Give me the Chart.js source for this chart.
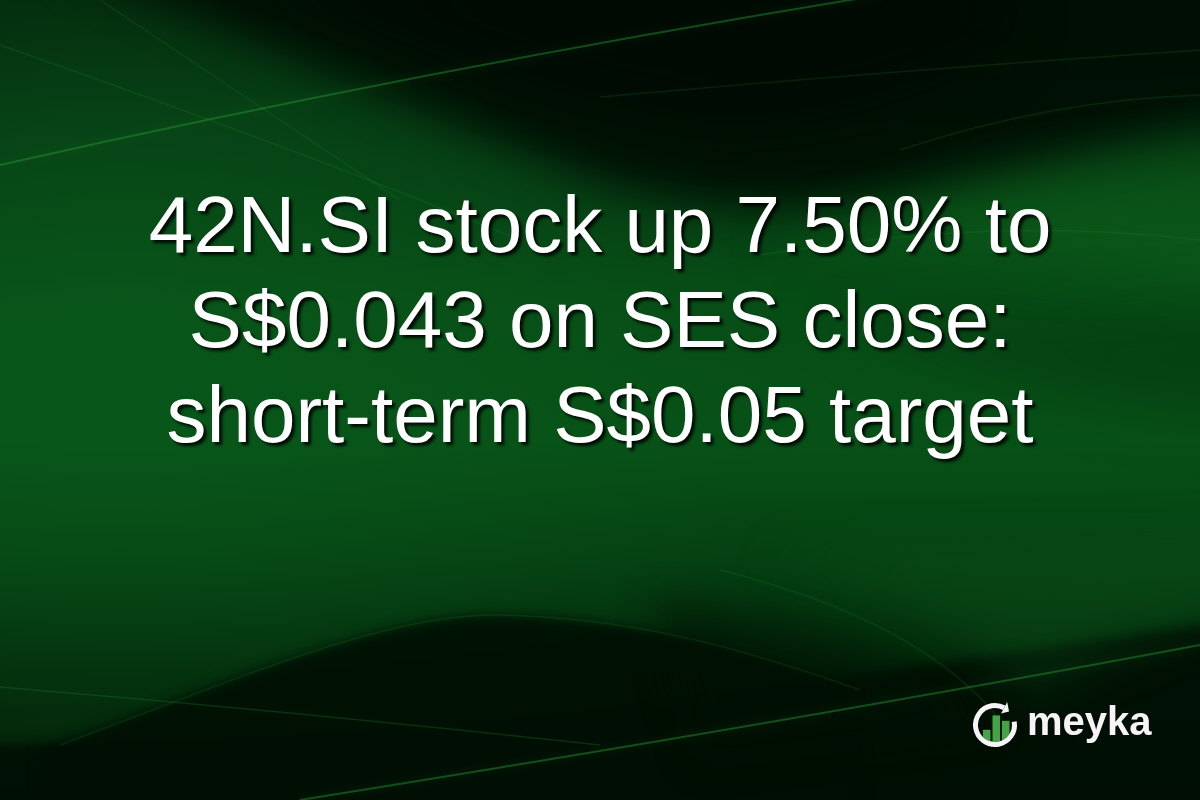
<!DOCTYPE html>
<html>
<head>
<meta charset="utf-8">
<style>
html,body{margin:0;padding:0;background:#031a07;overflow:hidden;}
#wrap{width:1200px;height:800px;position:relative;}
canvas{display:block;}
</style>
<script src="https://cdn.jsdelivr.net/npm/chart.js@4.4.1/dist/chart.umd.min.js"></script>
</head>
<body>
<div id="wrap"><canvas id="c" width="1200" height="800"></canvas></div>
<script>
// ---- content ----
const headlineLines = [
  "42N.SI stock up 7.50% to",
  "S$0.043 on SES close:",
  "short-term S$0.05 target"
];
const brandName = "meyka";
const logoBarHeights = [0.45, 0.85, 0.7]; // relative heights of the icon bars

function blurFill(ctx, blur, color, pathFn){
  ctx.save();
  ctx.filter = 'blur(' + blur + 'px)';
  ctx.fillStyle = color;
  ctx.beginPath();
  pathFn(ctx);
  ctx.fill();
  ctx.restore();
}
function glowLine(ctx, width, color, glow, pathFn){
  ctx.save();
  ctx.filter = 'blur(0.7px)';
  ctx.strokeStyle = color;
  ctx.lineWidth = width;
  ctx.shadowColor = color;
  ctx.shadowBlur = glow;
  ctx.beginPath();
  pathFn(ctx);
  ctx.stroke();
  ctx.restore();
}

const backgroundPlugin = {
  id: 'waveBackground',
  beforeDraw(chart){
    const ctx = chart.ctx, W = chart.width, H = chart.height;
    ctx.save();
    // base vertical gradient
    let g = ctx.createLinearGradient(0,0,0,H);
    g.addColorStop(0.00,'#03200a');
    g.addColorStop(0.18,'#053812');
    g.addColorStop(0.38,'#074d16');
    g.addColorStop(0.55,'#075117');
    g.addColorStop(0.70,'#054012');
    g.addColorStop(0.85,'#032509');
    g.addColorStop(1.00,'#021506');
    ctx.fillStyle = g; ctx.fillRect(0,0,W,H);
    // left brightening
    let r = ctx.createRadialGradient(120,330,20,120,330,650);
    r.addColorStop(0,'rgba(10,95,30,0.45)');
    r.addColorStop(1,'rgba(10,95,30,0)');
    ctx.fillStyle = r; ctx.fillRect(0,0,W,H);

    // dark top region
    blurFill(ctx, 22, 'rgba(0,10,2,0.85)', c=>{
      c.moveTo(60,-40);
      c.quadraticCurveTo(330,70,560,165);
      c.quadraticCurveTo(720,235,920,190);
      c.quadraticCurveTo(1080,150,1260,110);
      c.lineTo(1260,-40); c.closePath();
    });
    // very dark core top centre
    blurFill(ctx, 30, 'rgba(0,6,1,0.6)', c=>{
      c.moveTo(250,-40);
      c.quadraticCurveTo(500,90,720,120);
      c.quadraticCurveTo(900,110,1000,40);
      c.lineTo(1000,-40); c.closePath();
    });
    // green sweep at right under the dark top
    blurFill(ctx, 25, 'rgba(20,120,35,0.32)', c=>{
      c.moveTo(1260,150);
      c.quadraticCurveTo(1000,160,760,250);
      c.quadraticCurveTo(1000,250,1260,300);
      c.closePath();
    });
    // right side slight dark under the sweep
    blurFill(ctx, 30, 'rgba(0,20,5,0.22)', c=>{
      c.moveTo(1260,300);
      c.quadraticCurveTo(1000,330,800,300);
      c.quadraticCurveTo(1000,400,1260,420);
      c.closePath();
    });

    // bottom dark band
    blurFill(ctx, 6, 'rgba(0,14,3,0.88)', c=>{
      c.moveTo(-20,745);
      c.quadraticCurveTo(350,740,600,712);
      c.quadraticCurveTo(900,670,1260,615);
      c.lineTo(1260,820); c.lineTo(-20,820); c.closePath();
    });
    // dark hump
    blurFill(ctx, 6, 'rgba(0,14,3,0.9)', c=>{
      c.moveTo(40,750);
      c.bezierCurveTo(230,680,390,612,500,615);
      c.bezierCurveTo(620,618,720,640,860,690);
      c.lineTo(860,820); c.lineTo(40,820); c.closePath();
    });
    // dark diagonal between hump and logo
    blurFill(ctx, 18, 'rgba(0,16,4,0.55)', c=>{
      c.moveTo(650,600);
      c.quadraticCurveTo(850,620,1000,720);
      c.lineTo(700,760); c.closePath();
    });
    // lighter band right of the ribbon edge
    blurFill(ctx, 25, 'rgba(15,100,30,0.25)', c=>{
      c.moveTo(760,560);
      c.quadraticCurveTo(950,600,1030,700);
      c.quadraticCurveTo(1120,640,1260,600);
      c.lineTo(1260,540); c.closePath();
    });

    // glowing thin lines
    const line = 'rgba(40,150,50,0.45)';
    const faint = 'rgba(40,140,50,0.18)';
    glowLine(ctx, 2, line, 8, c=>{ c.moveTo(0,165); c.quadraticCurveTo(420,70,880,-5); });
    glowLine(ctx, 1.5, faint, 6, c=>{ c.moveTo(600,97); c.quadraticCurveTo(900,70,1200,50); });
    glowLine(ctx, 1.5, faint, 6, c=>{ c.moveTo(0,45); c.quadraticCurveTo(300,150,520,240); });
    glowLine(ctx, 1.5, faint, 6, c=>{ c.moveTo(100,0); c.quadraticCurveTo(280,120,400,200); });
    glowLine(ctx, 1.5, faint, 6, c=>{ c.moveTo(760,255); c.quadraticCurveTo(1000,215,1200,240); });
    glowLine(ctx, 1.5, faint, 6, c=>{ c.moveTo(900,150); c.quadraticCurveTo(1050,100,1200,95); });
    glowLine(ctx, 1.5, 'rgba(40,140,50,0.25)', 6, c=>{ c.moveTo(0,687); c.quadraticCurveTo(300,712,600,745); });
    glowLine(ctx, 1.5, faint, 6, c=>{ c.moveTo(60,745); c.bezierCurveTo(240,678,390,612,500,615); c.bezierCurveTo(620,618,720,640,860,690); });
    glowLine(ctx, 2, line, 8, c=>{ c.moveTo(300,800); c.quadraticCurveTo(800,720,1200,645); });
    glowLine(ctx, 1.5, faint, 6, c=>{ c.moveTo(720,570); c.quadraticCurveTo(920,620,1000,720); });
    ctx.restore();
  }
};

const headlinePlugin = {
  id: 'headline',
  afterDraw(chart){
    const ctx = chart.ctx;
    ctx.save();
    ctx.font = '80px "Liberation Sans", Arial, sans-serif';
    ctx.textAlign = 'center';
    ctx.textBaseline = 'alphabetic';
    ctx.fillStyle = '#ffffff';
    ctx.shadowColor = 'rgba(0,0,0,0.85)';
    ctx.shadowOffsetX = 3; ctx.shadowOffsetY = 3; ctx.shadowBlur = 3;
    const base0 = 252, lh = 95;
    headlineLines.forEach((t,i)=> ctx.fillText(t, 600, base0 + i*lh));
    ctx.restore();

    // logo
    const cx = 995, cy = 725, rr = 19.5;
    ctx.save();
    ctx.save();
    ctx.beginPath(); ctx.arc(cx,cy,17,0,Math.PI*2); ctx.clip();
    ctx.fillStyle = '#45a545';
    const bx = [983, 992.5, 1002], bw = 7.5, bottom = 746, full = 36;
    logoBarHeights.forEach((h,i)=>{
      const top = bottom - h*full;
      ctx.fillRect(bx[i], top, bw, bottom-top);
    });
    ctx.restore();
    const a0 = -10*Math.PI/180, a1 = (360-62)*Math.PI/180;
    ctx.strokeStyle = '#f7f4f7';
    ctx.lineWidth = 5;
    ctx.beginPath(); ctx.arc(cx,cy,rr,a0,a1,false); ctx.stroke();
    const at = a1, tip = at + 18*Math.PI/180;
    ctx.fillStyle = '#f7f4f7';
    ctx.beginPath();
    ctx.moveTo(cx+(rr+6.5)*Math.cos(at), cy+(rr+6.5)*Math.sin(at));
    ctx.lineTo(cx+rr*Math.cos(tip), cy+rr*Math.sin(tip));
    ctx.lineTo(cx+(rr-6.5)*Math.cos(at), cy+(rr-6.5)*Math.sin(at));
    ctx.closePath(); ctx.fill();
    ctx.font = 'bold 40px "Liberation Sans", Arial, sans-serif';
    ctx.textAlign = 'left';
    ctx.fillStyle = '#f7f4f7';
    ctx.fillText(brandName, 1027, 735);
    ctx.restore();
  }
};

new Chart(document.getElementById('c'), {
  type: 'line',
  data: { labels: [], datasets: [] },
  options: {
    responsive: false,
    devicePixelRatio: 1,
    animation: false,
    events: [],
    layout: { padding: 0 },
    plugins: { legend: { display: false }, title: { display: false }, tooltip: { enabled: false } },
    scales: { x: { display: false }, y: { display: false } }
  },
  plugins: [backgroundPlugin, headlinePlugin]
});
</script>
</body>
</html>
